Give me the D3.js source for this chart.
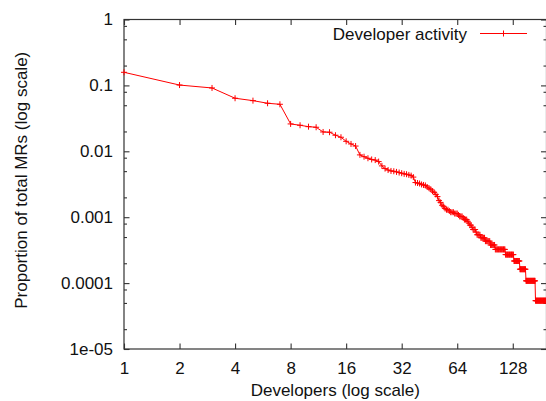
<!DOCTYPE html>
<html>
<head>
<meta charset="utf-8">
<script src="https://cdn.jsdelivr.net/npm/d3@7"></script>
<style>
  html, body { margin: 0; padding: 0; background: #fff; }
  svg { display: block; }
  text { font-family: "Liberation Sans", Arial, Helvetica, sans-serif; fill: #111; }
</style>
</head>
<body>
<svg id="chart" width="546" height="401"></svg>
<script>
// ---- data ----
const seriesName = "Developer activity";
const totalMRs = 18480;
// MRs per developer, developers ranked 1..N by activity
const mrCounts = [
  2920, 1870, 1690, 1180, 1085, 990, 955,
  481, 459, 437, 428, 363, 360, 324, 302, 262, 239, 222,
  163, 153, 145, 139, 136, 129,
  111, 101, 96, 93, 92, 90, 88, 86, 84, 83, 81, 79, 75,
  62, 61, 60, 58, 57, 56, 53, 51, 49, 46, 44, 41, 38,
  33, 31, 28, 27, 25, 24, 24, 23, 22, 22, 22, 21, 21, 21, 20,
  19, 19, 19, 18, 17, 17, 17, 16, 15, 14, 14, 13, 12, 12, 12, 11, 10, 10, 10, 10,
  9, 9, 9, 9, 9,
  8, 8, 8, 8, 8, 8,
  7, 7, 7, 7, 7, 7,
  6, 6, 6, 6, 6, 6, 6, 6, 6, 6, 6, 6, 6, 6,
  5, 5, 5, 5, 5, 5, 5, 5, 5, 5, 5, 5, 5,
  4, 4, 4, 4, 4, 4, 4, 4, 4, 4,
  3, 3, 3, 3, 3, 3, 3, 3, 3, 3, 3,
  2, 2, 2, 2, 2, 2, 2, 2, 2, 2, 2, 2, 2, 2, 2, 2, 2, 2, 2,
  1, 1, 1, 1, 1, 1, 1, 1, 1, 1, 1, 1, 1, 1, 1, 1, 1, 1, 1, 1, 1, 1, 1, 1, 1, 1
];
const xTickValues = [1, 2, 4, 8, 16, 32, 64, 128];
const xTickLabels = ["1", "2", "4", "8", "16", "32", "64", "128"];
const yTickValues = [1e-5, 1e-4, 1e-3, 1e-2, 1e-1, 1];
const yTickLabels = ["1e-05", "0.0001", "0.001", "0.01", "0.1", "1"];
const yMinorMultipliers = [2, 5, 8];
const xDomain = [1, 195];
const yDomain = [1e-5, 1];
const xTitle = "Developers (log scale)";
const yTitle = "Proportion of total MRs (log scale)";

// ---- layout ----
const L = 124, R = 546.5, T = 19.5, B = 349;
const svg = d3.select("#chart");

const x = d3.scaleLog().base(2).domain(xDomain).range([L, R]);
const y = d3.scaleLog().base(10).domain(yDomain).range([B, T]);

const points = mrCounts.map((c, i) => ({ rank: i + 1, p: c / totalMRs }));

const yMinor = [];
yTickValues.slice(0, -1).forEach(d => yMinorMultipliers.forEach(m => yMinor.push(d * m)));

const axisColor = "#333";
const FS = 17;

function styleAxis(g) {
  g.select(".domain").remove();
  g.selectAll(".tick line").attr("stroke", axisColor).attr("stroke-width", 1.1);
  g.selectAll(".tick text").attr("font-size", FS).attr("fill", "#111")
    .attr("font-family", '"Liberation Sans", Arial, sans-serif');
}

// bottom
svg.append("g").attr("transform", `translate(0,${B})`)
  .call(d3.axisBottom(x).tickValues(xTickValues)
    .tickFormat((d, i) => xTickLabels[i]).tickSize(-5.5).tickPadding(13))
  .call(styleAxis);
// top (mirror)
svg.append("g").attr("transform", `translate(0,${T})`)
  .call(d3.axisTop(x).tickValues(xTickValues).tickFormat("").tickSize(-5.5))
  .call(styleAxis);
// left
svg.append("g").attr("transform", `translate(${L},0)`)
  .call(d3.axisLeft(y).tickValues(yTickValues)
    .tickFormat((d, i) => yTickLabels[i]).tickSize(-5.5).tickPadding(11))
  .call(styleAxis);
svg.append("g").attr("transform", `translate(${L},0)`)
  .call(d3.axisLeft(y).tickValues(yMinor).tickFormat("").tickSize(-3))
  .call(styleAxis);
// right (mirror)
svg.append("g").attr("transform", `translate(${R},0)`)
  .call(d3.axisRight(y).tickValues(yTickValues).tickFormat("").tickSize(-5.5))
  .call(styleAxis);
svg.append("g").attr("transform", `translate(${R},0)`)
  .call(d3.axisRight(y).tickValues(yMinor).tickFormat("").tickSize(-3))
  .call(styleAxis);

// border
svg.append("rect").attr("x", L).attr("y", T).attr("width", R - L).attr("height", B - T)
  .attr("fill", "none").attr("stroke", axisColor).attr("stroke-width", 1.2);

// series line
const line = d3.line().x(d => x(d.rank)).y(d => y(d.p));
svg.append("path").datum(points).attr("d", line)
  .attr("fill", "none").attr("stroke", "#ff0000").attr("stroke-width", 1);

// markers
const plus = "M-3,0H3M0,-3V3";
svg.append("g").selectAll("path").data(points).join("path")
  .attr("transform", d => `translate(${x(d.rank)},${y(d.p)})`)
  .attr("d", plus).attr("stroke", "#ff0000").attr("stroke-width", 1).attr("fill", "none");

// legend
const lg = svg.append("g");
lg.append("text").attr("x", 467).attr("y", 39.5).attr("text-anchor", "end")
  .attr("font-size", FS).text(seriesName);
lg.append("line").attr("x1", 480).attr("x2", 527).attr("y1", 33.5).attr("y2", 33.5)
  .attr("stroke", "#ff0000").attr("stroke-width", 1);
lg.append("path").attr("transform", "translate(503.5,33.5)").attr("d", plus)
  .attr("stroke", "#ff0000").attr("stroke-width", 1);

// titles
svg.append("text").attr("x", (L + R) / 2).attr("y", 396).attr("text-anchor", "middle")
  .attr("font-size", FS).text(xTitle);
svg.append("text").attr("transform", `translate(27,${(T + B) / 2 - 4}) rotate(-90)`)
  .attr("text-anchor", "middle").attr("font-size", FS).text(yTitle);
</script>
</body>
</html>
